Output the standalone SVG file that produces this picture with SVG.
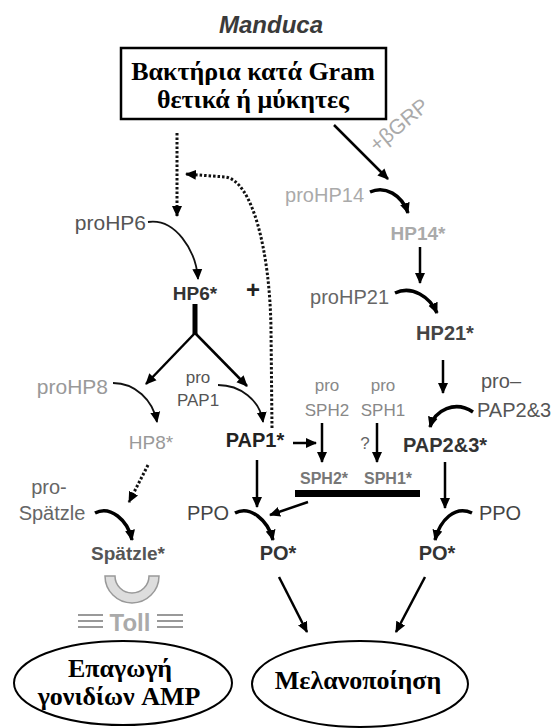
<svg xmlns="http://www.w3.org/2000/svg" width="560" height="728" viewBox="0 0 560 728">
<style>
.s{font-family:"Liberation Sans",Arial,sans-serif}
.g{font-family:"Liberation Serif","Times New Roman",serif;font-weight:bold;font-size:26px;fill:#000;text-anchor:middle}
.b{font-weight:bold}
.c{text-anchor:middle}
.e{text-anchor:end}
.ln{fill:none;stroke:#000;stroke-width:2.5}
.th{fill:none;stroke:#000;stroke-width:3.5}
.tn{fill:none;stroke:#111;stroke-width:1.8}
.dt{fill:none;stroke:#111;stroke-width:3;stroke-dasharray:2.5 2}
</style>
<defs>
<marker id="ah" markerUnits="userSpaceOnUse" markerWidth="12" markerHeight="12" refX="10" refY="5" orient="auto" viewBox="0 0 12 10">
<path d="M0,0 L11,5 L0,10 z" fill="#000"/>
</marker>
</defs>
<rect width="560" height="728" fill="#fff"/>

<g id="title"><text class="s b c" x="271" y="33" font-size="24" font-style="italic" fill="#3a3a3a">Manduca</text></g>

<g id="bacteria">
<rect x="121" y="48" width="265" height="71" fill="#fff" stroke="#000" stroke-width="2.5"/>
<text class="g" x="253" y="80">Βακτήρια κατά Gram</text>
<text class="g" x="253" y="108">θετικά ή μύκητες</text>
</g>

<g id="connectors">
<line class="ln" x1="334" y1="125" x2="388" y2="179" marker-end="url(#ah)"/>
<line class="dt" x1="177" y1="133" x2="177" y2="216" marker-end="url(#ah)"/>
<path class="dt" d="M272,428 L271,330 C270,250 252,180 225,177 L186,174" marker-end="url(#ah)"/>
<path class="tn" d="M148,222 C175,218 196,250 198,279" marker-end="url(#ah)"/>
<line x1="195" y1="304" x2="195" y2="334" stroke="#000" stroke-width="5"/>
<line class="ln" x1="195" y1="333" x2="146" y2="384" stroke-width="3" marker-end="url(#ah)"/>
<line class="ln" x1="195" y1="333" x2="247" y2="386" stroke-width="3" marker-end="url(#ah)"/>
<path class="th" d="M370,192 C385,185 402,195 408,213" marker-end="url(#ah)"/>
<line class="ln" x1="420" y1="247" x2="420" y2="283" stroke-width="3" marker-end="url(#ah)"/>
<path class="th" d="M395,293 C412,285 430,297 437,313" marker-end="url(#ah)"/>
<line class="ln" x1="443" y1="360" x2="443" y2="393" stroke-width="3" marker-end="url(#ah)"/>
<path class="th" d="M473,412 C455,400 435,410 430,427" marker-end="url(#ah)"/>
<path class="tn" d="M113,383 C135,383 153,400 157,422" marker-end="url(#ah)"/>
<path class="tn" d="M218,385 C240,385 260,400 263,422" marker-end="url(#ah)"/>
<line class="dt" x1="148" y1="465" x2="129" y2="502" marker-end="url(#ah)"/>
<path class="th" d="M95,513 C110,505 128,520 132,540" marker-end="url(#ah)"/>
<line class="ln" x1="257" y1="460" x2="257" y2="507" marker-end="url(#ah)"/>
<line class="ln" x1="293" y1="443" x2="316" y2="443" stroke-width="3" marker-end="url(#ah)"/>
<line class="ln" x1="322" y1="423" x2="322" y2="462" stroke-width="3" marker-end="url(#ah)"/>
<line class="ln" x1="377" y1="423" x2="377" y2="462" stroke-width="3" marker-end="url(#ah)"/>
<line class="ln" x1="308" y1="502" x2="270" y2="515" marker-end="url(#ah)"/>
<path class="th" d="M235,513 C250,505 268,520 273,540" marker-end="url(#ah)"/>
<line class="ln" x1="445" y1="462" x2="445" y2="508" marker-end="url(#ah)"/>
<path class="th" d="M472,513 C455,505 440,520 435,540" marker-end="url(#ah)"/>
<line class="ln" x1="279" y1="577" x2="307" y2="632" marker-end="url(#ah)"/>
<line class="ln" x1="425" y1="577" x2="396" y2="632" marker-end="url(#ah)"/>
</g>

<g id="gbrgp"><text class="s c" x="399" y="132" font-size="21" fill="#aaa" transform="rotate(-40 399 125)">+βGRP</text></g>
<g id="plus"><text class="s b c" x="253" y="298" font-size="24" fill="#222">+</text></g>

<g id="proHP6"><text class="s e" x="146" y="230" font-size="21" fill="#555">proHP6</text></g>
<g id="HP6"><text class="s b c" x="195" y="300" font-size="19" fill="#333">HP6*</text></g>
<g id="proHP14"><text class="s e" x="364" y="202" font-size="20" fill="#aaa">proHP14</text></g>
<g id="HP14"><text class="s b c" x="418" y="240" font-size="19" fill="#aaa">HP14*</text></g>
<g id="proHP21"><text class="s e" x="389" y="304" font-size="20" fill="#666">proHP21</text></g>
<g id="HP21"><text class="s b c" x="445" y="340" font-size="20" fill="#444">HP21*</text></g>
<g id="proHP8"><text class="s e" x="108" y="394" font-size="21" fill="#999">proHP8</text></g>
<g id="HP8"><text class="s c" x="151" y="449" font-size="19" fill="#999">HP8*</text></g>
<g id="proPAP1"><text class="s c" font-size="17" fill="#555"><tspan x="198" y="383">pro</tspan><tspan x="198" y="406">PAP1</tspan></text></g>
<g id="PAP1"><text class="s b c" x="255" y="447" font-size="20" fill="#222">PAP1*</text></g>
<g id="proSPH2"><text class="s c" font-size="17" fill="#888"><tspan x="327" y="391">pro</tspan><tspan x="327" y="416">SPH2</tspan></text></g>
<g id="proSPH1"><text class="s c" font-size="17" fill="#888"><tspan x="383" y="391">pro</tspan><tspan x="383" y="416">SPH1</tspan></text></g>
<g id="q"><text class="s c" x="365" y="449" font-size="17" fill="#666">?</text></g>
<g id="proPAP23"><text class="s" font-size="20" fill="#555"><tspan x="481" y="388">pro–</tspan><tspan x="477" y="417">PAP2&amp;3</tspan></text></g>
<g id="PAP23"><text class="s b c" x="445" y="452" font-size="20" fill="#333">PAP2&amp;3*</text></g>
<g id="SPH">
<text class="s b c" x="324" y="484" font-size="16" fill="#777">SPH2*</text>
<text class="s b c" x="388" y="484" font-size="16" fill="#777">SPH1*</text>
<rect x="295" y="490" width="125" height="7" fill="#000"/>
</g>
<g id="proSpatzle"><text class="s c" font-size="20" fill="#666"><tspan x="49" y="494">pro-</tspan><tspan x="52" y="520">Spätzle</tspan></text></g>
<g id="PPO1"><text class="s c" x="208" y="520" font-size="20" fill="#444">PPO</text></g>
<g id="PPO2"><text class="s c" x="500" y="520" font-size="20" fill="#444">PPO</text></g>
<g id="Spatzle"><text class="s b c" x="128" y="560" font-size="19" fill="#555">Spätzle*</text></g>
<g id="PO1"><text class="s b c" x="278" y="560" font-size="20" fill="#333">PO*</text></g>
<g id="PO2"><text class="s b c" x="437" y="560" font-size="20" fill="#333">PO*</text></g>
<g id="Toll">
<path d="M105,576 A27,27 0 0 0 159,576 L149,576 A17,17 0 0 1 115,576 Z" fill="#ddd" stroke="#999" stroke-width="1.5"/>
<g stroke="#999" stroke-width="2">
<line x1="78" y1="615" x2="103" y2="615"/><line x1="78" y1="621" x2="103" y2="621"/><line x1="78" y1="627" x2="103" y2="627"/>
<line x1="157" y1="615" x2="183" y2="615"/><line x1="157" y1="621" x2="183" y2="621"/><line x1="157" y1="627" x2="183" y2="627"/>
</g>
<text class="s b c" x="130" y="631" font-size="24" fill="#aaa">Toll</text>
</g>
<g id="AMP">
<ellipse cx="123" cy="683" rx="109" ry="42" fill="#fff" stroke="#000" stroke-width="2"/>
<text class="g" x="120" y="677">Επαγωγή</text>
<text class="g" x="119" y="705">γονιδίων AMP</text>
</g>
<g id="melan">
<ellipse cx="360" cy="684" rx="108" ry="43" fill="#fff" stroke="#000" stroke-width="2"/>
<text class="g" x="358" y="689">Μελανοποίηση</text>
</g>
</svg>
